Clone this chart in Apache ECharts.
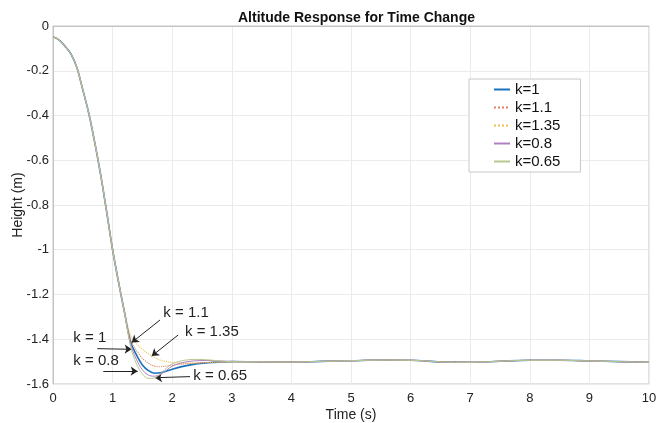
<!DOCTYPE html>
<html>
<head>
<meta charset="utf-8">
<script src="https://cdn.jsdelivr.net/npm/echarts@6/dist/echarts.min.js"></script>
<style>html,body{margin:0;padding:0;background:#fff;}#c{width:657px;height:423px;}</style>
</head>
<body>
<div id="c"></div>
<script>
const time = [0,0.1,0.2,0.3,0.4,0.5,0.6,0.7,0.8,0.9,1.0,1.1,1.2,1.3,1.4,1.5,1.6,1.7,1.8,1.9,2.0,2.2,2.4,2.6,2.8,3.0,3.5,4.0,4.5,5.0,5.5,6.0,6.5,7.0,7.5,8.0,8.5,9.0,9.5,10];
const descent = [-0.048,-0.062,-0.09,-0.125,-0.185,-0.285,-0.39,-0.52,-0.665,-0.83,-1.0,-1.145,-1.28];
const tail = [-1.501,-1.502,-1.499,-1.496,-1.493,-1.494,-1.501,-1.503,-1.498,-1.494,-1.494,-1.497,-1.5,-1.503];
// values from t=1.3 to t=3.0
const k1Mid   = [-1.41,-1.47,-1.515,-1.54,-1.552,-1.55,-1.543,-1.534,-1.52,-1.51,-1.505,-1.502,-1.5];
const k11Mid  = [-1.40,-1.45,-1.485,-1.507,-1.52,-1.523,-1.52,-1.516,-1.51,-1.507,-1.504,-1.502,-1.5];
const k135Mid = [-1.38,-1.42,-1.445,-1.465,-1.48,-1.493,-1.50,-1.504,-1.507,-1.506,-1.504,-1.502,-1.501];
const k08Mid  = [-1.42,-1.49,-1.537,-1.56,-1.565,-1.558,-1.54,-1.52,-1.503,-1.496,-1.495,-1.497,-1.499];
const k065Mid = [-1.43,-1.51,-1.555,-1.575,-1.573,-1.555,-1.53,-1.51,-1.494,-1.49,-1.492,-1.497,-1.50];
const seriesNames = ['k=1','k=1.1','k=1.35','k=0.8','k=0.65'];
const seriesMids = [k1Mid,k11Mid,k135Mid,k08Mid,k065Mid];
const seriesColors = ['#1a72bd','#e08060','#f0c050','#b080c0','#b8c890'];
const seriesTypes = ['solid','dotted','dotted','solid','solid'];
const seriesWidths = [1.6,1.1,1.1,1,1];
const xTicks = [0,1,2,3,4,5,6,7,8,9,10];
const annotationTexts = ['k = 1.1','k = 1.35','k = 1','k = 0.8','k = 0.65'];
const annotationTextAt = [[1.851,-1.284],[2.215,-1.366],[0.341,-1.396],[0.341,-1.497],[2.354,-1.564]];
const arrowFrom = [[1.795,-1.314],[2.10,-1.381],[0.743,-1.442],[0.844,-1.541],[2.299,-1.567]];
const arrowTo   = [[1.32,-1.415],[1.656,-1.475],[1.32,-1.445],[1.421,-1.543],[1.711,-1.572]];

function buildData(mid){
  const vals = descent.concat(mid, tail);
  return time.map((t,i)=>[t, vals[i]]);
}

const chart = echarts.init(document.getElementById('c'));
const series = seriesNames.map((n,i)=>({
  name:n, type:'line', data:buildData(seriesMids[i]), symbol:'none', smooth:0.35,
  lineStyle:{color:seriesColors[i], width:seriesWidths[i], type:seriesTypes[i]},
  itemStyle:{color:seriesColors[i]}, z: 2+i
}));
series.push({
  name:'annot', type:'line', data:[], symbol:'none', z:10,
  markLine:{
    silent:true, symbol:['none','arrow'], symbolSize:7,
    lineStyle:{color:'#222', width:1, type:'solid'}, label:{show:false},
    data: arrowFrom.map((f,i)=>[{coord:f},{coord:arrowTo[i]}])
  },
  markPoint:{
    silent:true, symbol:'circle', symbolSize:0,
    label:{show:true, position:'right', distance:0, color:'#222', fontSize:15, fontFamily:'Liberation Sans, Arial, sans-serif', formatter:p=>p.name},
    data: annotationTexts.map((t,i)=>({name:t, coord:annotationTextAt[i]}))
  }
});

chart.setOption({
  animation:false,
  backgroundColor:'#fff',
  textStyle:{fontFamily:'Liberation Sans, Arial, sans-serif'},
  title:{text:'Altitude Response for Time Change', left:233, top:6,
    textStyle:{fontSize:14, fontWeight:'bold', color:'#111', fontFamily:'Liberation Sans, Arial, sans-serif'}},
  grid:{left:53, right:8, top:26, bottom:39, show:true, borderColor:'#c4c4c4', borderWidth:1,
    containLabel:false, outerBoundsMode:'none'},
  legend:{
    data:seriesNames, orient:'vertical', left:469, top:79,
    padding:[3,20,3,24], itemGap:3, itemWidth:16, itemHeight:14,
    itemStyle:{opacity:0},
    backgroundColor:'#fff', borderColor:'#c8c8c8', borderWidth:1,
    textStyle:{fontSize:15, color:'#111', fontFamily:'Liberation Sans, Arial, sans-serif'}
  },
  xAxis:{type:'value', min:0, max:10, interval:1, name:'Time (s)', nameLocation:'middle', nameGap:24,
    nameMoveOverlap:false,
    nameTextStyle:{fontSize:14, color:'#222'},
    axisLine:{show:true, lineStyle:{color:'#c4c4c4'}}, axisTick:{show:false},
    axisLabel:{fontSize:13, color:'#222', margin:8, customValues:xTicks},
    splitLine:{show:true, lineStyle:{color:'#ebebeb'}}},
  yAxis:{type:'value', min:-1.6, max:0, interval:0.2, name:'Height (m)', nameLocation:'middle', nameGap:28,
    nameMoveOverlap:false,
    nameTextStyle:{fontSize:14, color:'#222'},
    axisLine:{show:true, lineStyle:{color:'#c4c4c4'}}, axisTick:{show:false},
    axisLabel:{fontSize:13, color:'#222', margin:4, formatter:v=>String(Math.round(v*10)/10)},
    splitLine:{show:true, lineStyle:{color:'#ebebeb'}}},
  series:series
});
</script>
</body>
</html>
